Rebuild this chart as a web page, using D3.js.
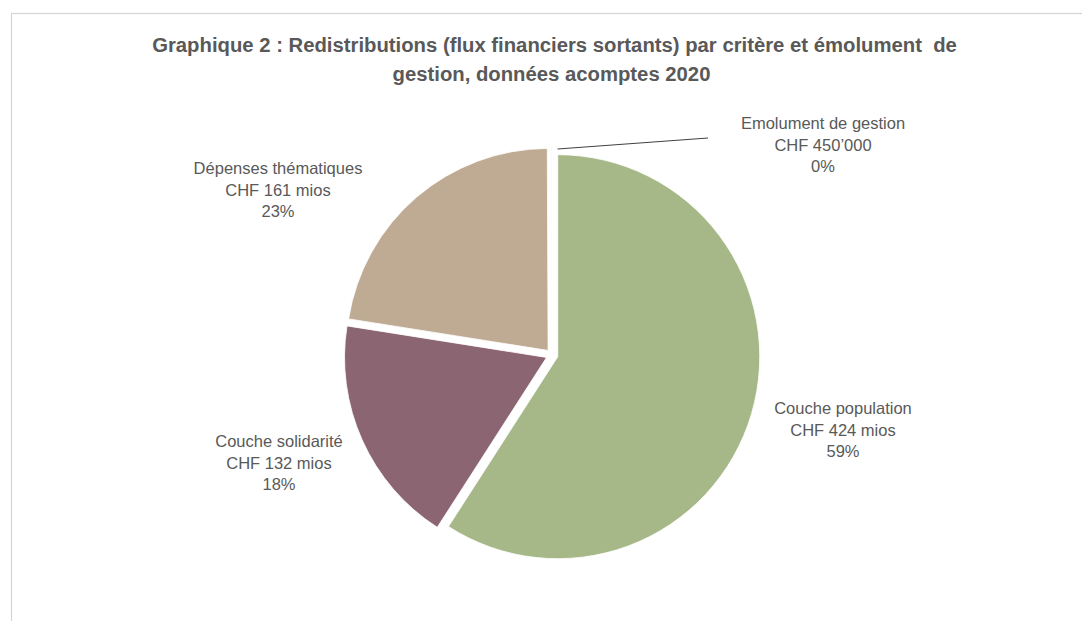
<!DOCTYPE html>
<html lang="fr">
<head>
<meta charset="utf-8">
<script src="https://cdn.jsdelivr.net/npm/d3@7/dist/d3.min.js"></script>
<style>
  html, body { margin: 0; padding: 0; background: #ffffff; }
  svg { display: block; }
  text { font-family: "Liberation Sans", Arial, "DejaVu Sans", sans-serif; }
</style>
</head>
<body>
<svg id="chart" width="1082" height="621"></svg>
<script>
// Redistributions par critère (CHF millions), dans l'ordre du tracé
const categories   = ["Couche population", "Couche solidarité", "Dépenses thématiques", "Emolument de gestion"];
const valuesMio    = [424, 132, 161, 0.45];
const amountLabels = ["CHF 424 mios", "CHF 132 mios", "CHF 161 mios", "CHF 450’000"];
const shareLabels  = ["59%", "18%", "23%", "0%"];
const sliceColors  = ["#a6b887", "#8b6571", "#bfab94", "#e4e4e4"];
const titleLines   = [
  "Graphique 2 : Redistributions (flux financiers sortants) par critère et émolument  de",
  "gestion, données acomptes 2020"
];

// Mise en page
const W = 1082, H = 621;
const cx = 552, cy = 355, radius = 202, explode = 6;
const textColor = "#595959";
// ancre (centre de la première ligne) de chaque étiquette
const labelAnchors = [[843, 414], [279, 447], [278, 174], [823, 129]];
const leaderEnd = [708, 138];
const lineGap = 21.5;

const svg = d3.select("#chart");

svg.append("rect").attr("width", W).attr("height", H).attr("fill", "#ffffff");

// cadre du graphique
svg.append("rect")
  .attr("x", 11.5).attr("y", 13.5)
  .attr("width", W + 20).attr("height", H + 20)
  .attr("fill", "none")
  .attr("stroke", "#d4d4d4")
  .attr("stroke-width", 1.2);

// titre
svg.append("g")
  .selectAll("text")
  .data(titleLines)
  .join("text")
  .attr("x", (d, i) => i === 0 ? 554.5 : 551.5)
  .attr("y", (d, i) => 52 + i * 29)
  .attr("text-anchor", "middle")
  .attr("font-size", 20.3)
  .attr("font-weight", "bold")
  .attr("fill", textColor)
  .attr("xml:space", "preserve")
  .style("white-space", "pre")
  .text(d => d);

const data = categories.map((c, i) => ({
  name: c, value: valuesMio[i], amount: amountLabels[i], share: shareLabels[i], color: sliceColors[i]
}));

const pie = d3.pie()
  .sort(null)
  .value(d => d.value)
  .startAngle(0)
  .endAngle(2 * Math.PI);

const arcs = pie(data);
const arc = d3.arc().innerRadius(0).outerRadius(radius);

const mid = a => (a.startAngle + a.endAngle) / 2;

const pieG = svg.append("g").attr("transform", `translate(${cx},${cy})`);

pieG.selectAll("path")
  .data(arcs)
  .join("path")
  .attr("transform", a => {
    const m = mid(a);
    return `translate(${Math.sin(m) * explode},${-Math.cos(m) * explode})`;
  })
  .attr("d", arc)
  .attr("fill", a => a.data.color)
  .attr("stroke", "#ffffff")
  .attr("stroke-width", 0.8);

// ligne de rappel pour la petite part (émolument)
const small = arcs[3];
const ms = mid(small);
const r0 = radius + explode;
svg.append("line")
  .attr("x1", cx + Math.sin(ms) * r0 + 6)
  .attr("y1", cy - Math.cos(ms) * r0 + 2)
  .attr("x2", leaderEnd[0])
  .attr("y2", leaderEnd[1])
  .attr("stroke", "#404040")
  .attr("stroke-width", 1);

// étiquettes de données
const labelG = svg.append("g");
arcs.forEach((a, i) => {
  const [lx, ly] = labelAnchors[i];
  const t = labelG.append("text")
    .attr("text-anchor", "middle")
    .attr("font-size", 16.5)
    .attr("fill", textColor);
  [a.data.name, a.data.amount, a.data.share].forEach((s, k) => {
    t.append("tspan")
      .attr("x", lx)
      .attr("y", ly + k * lineGap)
      .text(s);
  });
});
</script>
</body>
</html>
